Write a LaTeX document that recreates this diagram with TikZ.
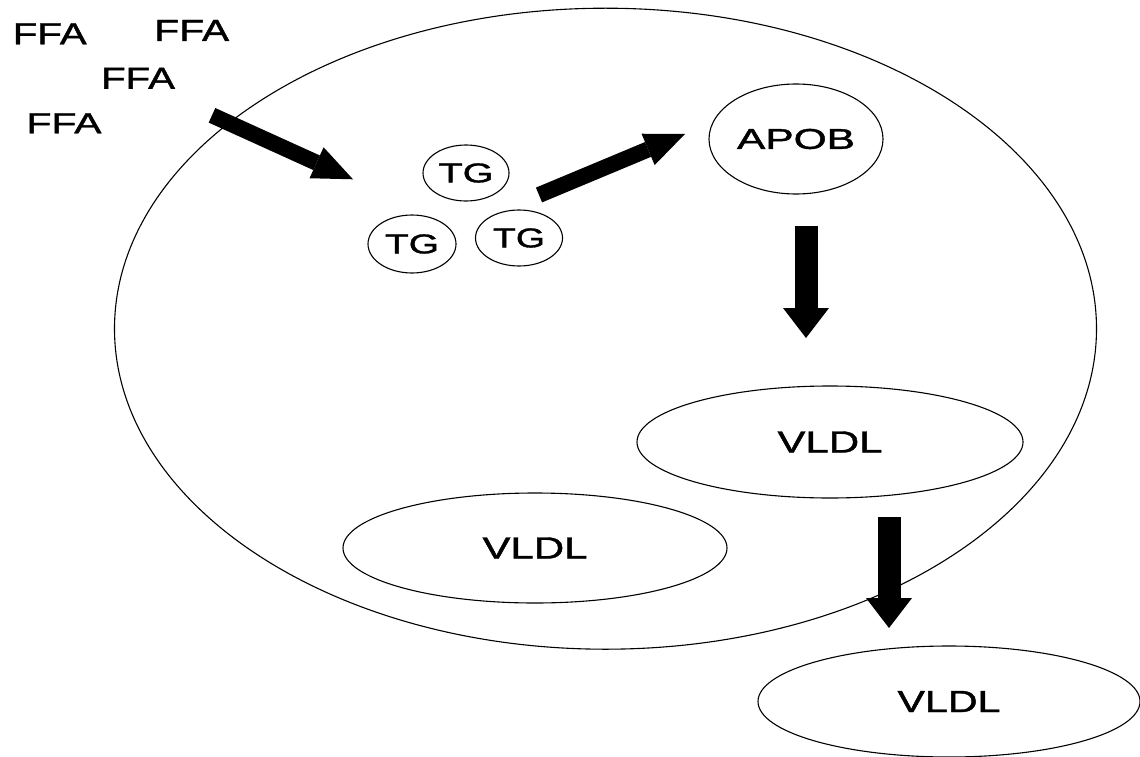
\documentclass[tikz,border=0pt]{standalone}
\usepackage{fontspec}
\setmainfont[FakeBold=1.2]{Liberation Sans}
\usetikzlibrary{shapes.geometric,arrows.meta}
\newcommand{\sz}[3]{\resizebox{#1pt}{#2pt}{\fontsize{28}{30}\selectfont #3}}
\tikzset{
  blob/.style={draw, ellipse, line width=1.1pt, inner sep=0pt},
  lbl/.style={inner sep=0pt},
  fat/.style={line width=16pt, -{Triangle[length=40pt,width=34pt,line width=0pt]}},
  fatter/.style={line width=23pt, -{Triangle[length=30pt,width=46pt,line width=0pt]}}
}
\begin{document}
\begin{tikzpicture}[x=1pt,y=-1pt]
\useasboundingbox (0,0) rectangle (1140,757);
% cell
\node[blob, minimum width=982pt, minimum height=641pt] (cell) at (605.5,328.7) {};
% free fatty acids
\node[lbl] (ffa1) at (49.7,33.8) {\sz{74}{21}{FFA}};
\node[lbl] (ffa2) at (191.7,30.5) {\sz{75}{21}{FFA}};
\node[lbl] (ffa3) at (138,78.3) {\sz{74}{21}{FFA}};
\node[lbl] (ffa4) at (64,123.3) {\sz{75}{20}{FFA}};
% triglycerides
\node[blob, minimum width=86pt, minimum height=56pt] (tg1) at (466,173) {\sz{55}{19}{TG}};
\node[blob, minimum width=88pt, minimum height=58pt] (tg2) at (412,244) {\sz{54}{19}{TG}};
\node[blob, minimum width=87pt, minimum height=56pt] (tg3) at (519,238) {\sz{52}{19}{TG}};
% APOB
\node[blob, minimum width=174pt, minimum height=110pt] (apob) at (796,139) {\sz{118}{20}{APOB}};
% VLDL
\node[blob, minimum width=386pt, minimum height=112pt] (vldl1) at (830,442) {\sz{105}{21}{VLDL}};
\node[blob, minimum width=384pt, minimum height=110pt] (vldl2) at (535,548) {\sz{105}{21}{VLDL}};
\node[blob, minimum width=382pt, minimum height=111pt] (vldl3) at (949,701.5) {\sz{103}{21}{VLDL}};
% arrow ends
\coordinate (a1s) at (212,115.3);
\coordinate (a1e) at (353,179.3);
\coordinate (a2s) at (539,195);
\coordinate (a2e) at (685,134);
\coordinate (a3s) at (806,226);
\coordinate (a3e) at (806,338);
\coordinate (a4s) at (889,517);
\coordinate (a4e) at (889,628);
\draw[fat] (a1s) -- (a1e);
\draw[fat] (a2s) -- (a2e);
\draw[fatter] (a3s) -- (a3e);
\draw[fatter] (a4s) -- (a4e);
\end{tikzpicture}
\end{document}
